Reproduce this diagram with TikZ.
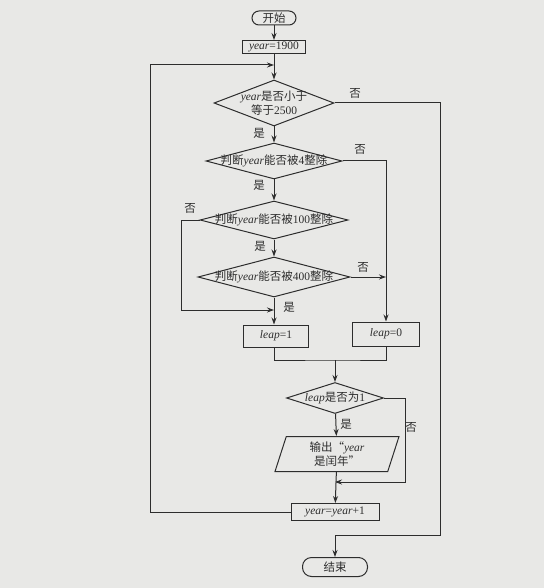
\documentclass[tikz,border=0pt]{standalone}
\usepackage{fontspec}
\setmainfont{Liberation Serif}
\newfontfamily\cjk{Noto Sans CJK SC}
\newcommand\hz[1]{{\cjk #1}}
\usetikzlibrary{shapes.geometric,arrows.meta}
\definecolor{ink}{RGB}{45,45,45}
\definecolor{paper}{RGB}{232,232,230}

\begin{document}
\begin{tikzpicture}[x=1pt,y=-1pt,>={Stealth[length=7pt,width=5pt]},line width=1pt,draw=ink,
 every node/.style={font=\fontsize{11.5}{13.5}\selectfont,text=ink},
 box/.style={draw=ink,rectangle,inner sep=0pt},
 term/.style={draw=ink,rectangle,rounded corners=7pt,inner sep=0pt,minimum width=44pt,minimum height=14pt},
 dec/.style={draw=ink,diamond,inner sep=-30pt,align=center},
 io/.style={draw=ink,trapezium,trapezium left angle=65,trapezium right angle=115,trapezium stretches body=true,inner sep=0pt,align=center},
 lab/.style={inner sep=0pt}]
 \fill[paper] (0,0) rectangle (544,588);
 \useasboundingbox (0,0) rectangle (544,588);

 \node[term] (st) at (274,18) {\hz{开始}};
 \node[box,minimum width=63pt,minimum height=13pt] (init) at (274,47) {\textit{year}=1900};
 \node[dec,minimum width=120pt,minimum height=46pt] (d1) at (274,103) {\textit{year}\hz{是否小于}\\\hz{等于}2500};
 \node[dec,minimum width=136pt,minimum height=36pt] (d2) at (274,161) {\hz{判断}\textit{year}\hz{能否被}4\hz{整除}};
 \node[dec,minimum width=148pt,minimum height=38pt] (d3) at (274,220) {\hz{判断}\textit{year}\hz{能否被}100\hz{整除}};
 \node[dec,minimum width=152pt,minimum height=40pt] (d4) at (274,277) {\hz{判断}\textit{year}\hz{能否被}400\hz{整除}};
 \node[box,minimum width=65pt,minimum height=22pt] (leap1) at (276,336) {\textit{leap}=1};
 \node[box,minimum width=67pt,minimum height=24pt] (leap0) at (386,334) {\textit{leap}=0};
 \node[dec,minimum width=97pt,minimum height=31pt] (d5) at (335,398) {\textit{leap}\hz{是否为}1};
 \node[io,minimum width=124pt,minimum height=35pt] (out) at (337,454) {\hz{输出“}\textit{year}\\\hz{是闰年”}};
 \node[box,minimum width=88pt,minimum height=17pt] (inc) at (335,512) {\textit{year}=\textit{year}+1};
 \node[term,minimum width=65pt,minimum height=19pt,rounded corners=9pt] (end) at (335,567) {\hz{结束}};

 \coordinate (loop) at (274,65);
 \coordinate (lb) at (150,512);
 \coordinate (rr) at (440,535);
 \coordinate (l3) at (181,310);
 \coordinate (j1) at (274,310);
 \coordinate (j2) at (386,277);
 \coordinate (mg) at (335,360);
 \coordinate (r5) at (405,482);
 \coordinate (j3) at (335,482);

 \node[lab] (y1) at (259,133) {\hz{是}};
 \node[lab] (n1) at (355,93) {\hz{否}};
 \node[lab] (y2) at (259,185) {\hz{是}};
 \node[lab] (n2) at (360,149) {\hz{否}};
 \node[lab] (y3) at (260,246) {\hz{是}};
 \node[lab] (n3) at (190,208) {\hz{否}};
 \node[lab] (y4) at (289,307) {\hz{是}};
 \node[lab] (n4) at (363,267) {\hz{否}};
 \node[lab] (y5) at (346,424) {\hz{是}};
 \node[lab] (n5) at (411,427) {\hz{否}};

 \foreach \from/\to in {st/init,init/d1,d1/d2,d2/d3,d3/d4,mg/d5,d5/out,out/inc}
  \draw[->] (\from) -- (\to);
 \draw[->] (d4) -- (d4 |- leap1.north);
 \draw[->] (d1) -| (rr) -| (end);
 \draw[->] (d2) -| (leap0);
 \draw[->] (d3) -| (l3) -- (j1);
 \draw[->] (d4) -- (j2);
 \draw (leap1.south -| d4) |- (mg) -| (leap0);
 \draw[->] (d5) -| (r5) -- (j3);
 \draw[->] (inc) -- (lb) |- (loop);
\end{tikzpicture}
\end{document}
